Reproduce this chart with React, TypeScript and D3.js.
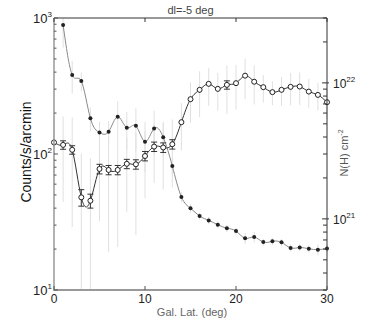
import React from "react";
import * as d3 from "d3";

const lat = [0, 1, 2, 3, 4, 5, 6, 7, 8, 9, 10, 11, 12, 13, 14, 15, 16, 17, 18, 19, 20, 21, 22, 23, 24, 25, 26, 27, 28, 29, 30];

// Filled circles: counts/s/arcmin (left axis), lat 1..30
const countLat = [1, 2, 3, 4, 5, 6, 7, 8, 9, 10, 11, 12, 13, 14, 15, 16, 17, 18, 19, 20, 21, 22, 23, 24, 25, 26, 27, 28, 29, 30];
const counts = [889, 381, 344, 183, 144, 146, 188, 156, 161, 123, 154, 133, 81.6, 48.3, 39.9, 35, 32.5, 30.2, 28.5, 27.1, 24.0, 24.5, 22.5, 22.8, 22.4, 20.4, 20.5, 20.1, 19.8, 20.2];
const countsErr = [284, 103, 55, 37, 29, 29, 56, 48, 56, 49, 54, 40, 12, 4, 2.8, 2.1, 2.0, 1.8, 1.7, 1.6, 2.2, 2.2, 1.4, 1.4, 1.3, 1.2, 1.2, 1.2, 1.8, 1.2];

// Open circles: N(H) in units of 1e21 cm^-2 (right axis), lat 0..30
const nh = [3.65, 3.5, 3.22, 1.44, 1.36, 2.33, 2.29, 2.29, 2.54, 2.52, 2.9, 3.4, 3.35, 3.54, 5.14, 7.59, 8.89, 9.84, 9.04, 9.67, 9.95, 11.3, 10.2, 9.3, 8.55, 8.89, 9.35, 9.4, 8.63, 8.16, 7.21];
const nhErrWide = [1.83, 2.17, 2.35, 1.58, 1.43, 1.37, 1.72, 1.67, 1.42, 1.76, 1.48, 1.56, 1.71, 1.84, 1.95, 2.5, 3.29, 3.05, 2.8, 3.77, 3.58, 3.73, 3.26, 2.14, 1.71, 2.13, 2.52, 2.54, 2.07, 1.88, 1.8];
const nhErrNarrow = [0.22, 0.25, 0.23, 0.2, 0.16, 0.19, 0.18, 0.18, 0.2, 0.2, 0.23, 0.27, 0.27, 0.28, 0.21, 0.3, 0.44, 0.39, 0.36, 0.68, 0.4, 0.45, 0.41, 0.37, 0.34, 0.36, 0.37, 0.38, 0.35, 0.33, 0.29];
const NH_UNIT = 1e21;

const xTicks = [0, 10, 20, 30];
const leftMajor = [10, 100, 1000];
const leftExp = ["1", "2", "3"];
const rightMajor = [1e21, 1e22];
const rightExp = ["21", "22"];

const title = "dl=-5 deg";
const xLabel = "Gal. Lat. (deg)";
const yLabel = "Counts/s/arcmin";

const W = 382, H = 322;
const L = 54, R = 327, T = 18, B = 290;
const FONT = "'Liberation Sans', Arial, sans-serif";

export default function App() {
  const x = d3.scaleLinear().domain([0, 30]).range([L, R]);
  const yL = d3.scaleLog().domain([10, 1000]).range([B, T]);
  const yR = d3.scaleLog().domain([3e20, 3e22]).range([B, T]);

  const leftMinor: number[] = [];
  for (const dec of [10, 100]) for (let k = 2; k <= 9; k++) leftMinor.push(dec * k);
  const rightMinor: number[] = [];
  for (const dec of [1e20, 1e21, 1e22]) for (let k = 1; k <= 9; k++) {
    const v = dec * k;
    if (v >= 3e20 && v <= 3e22 && v !== 1e21 && v !== 1e22) rightMinor.push(v);
  }

  const clip = (v: number) => Math.max(T, Math.min(B, v));
  const yRc = (v: number) => (v <= 0 ? B : clip(yR(v)));
  const yLc = (v: number) => (v <= 0 ? B : clip(yL(v)));

  const lineCounts = d3.line<number>()
    .x((_, i) => x(countLat[i]))
    .y((d) => yL(d))
    .curve(d3.curveNatural)(counts) || "";
  const lineNh = d3.line<number>()
    .x((_, i) => x(lat[i]))
    .y((d) => yR(d * NH_UNIT))
    .curve(d3.curveNatural)(nh) || "";

  return (
    <svg width={W} height={H} style={{ position: "absolute", left: 0, top: 0, background: "#fff" }} fontFamily={FONT}>
      <defs>
        <clipPath id="plotclip">
          <rect x={L} y={T} width={R - L} height={B - T} />
        </clipPath>
      </defs>
      <rect x={0} y={0} width={W} height={H} fill="#fff" />

      {/* wide light error bars */}
      <g stroke="#e0e0e0" strokeWidth={1}>
        {nh.map((v, i) => (
          <line key={"nw" + i} x1={x(lat[i])} x2={x(lat[i])}
            y1={yRc((v + nhErrWide[i]) * NH_UNIT)} y2={yRc((v - nhErrWide[i]) * NH_UNIT)} />
        ))}
        {counts.map((v, i) => (
          <line key={"cw" + i} x1={x(countLat[i])} x2={x(countLat[i])}
            y1={yLc(v + countsErr[i])} y2={yLc(v - countsErr[i])} />
        ))}
      </g>

      <g clipPath="url(#plotclip)">
        <path d={lineCounts} fill="none" stroke="#8a8a8a" strokeWidth={1} />
        <path d={lineNh} fill="none" stroke="#333" strokeWidth={1} />
      </g>

      {/* narrow dark error bars on N(H) */}
      <g stroke="#333" strokeWidth={1}>
        {nh.map((v, i) => {
          const cx = x(lat[i]);
          const y1 = yR((v + nhErrNarrow[i]) * NH_UNIT);
          const y2 = yR((v - nhErrNarrow[i]) * NH_UNIT);
          const cy = yR(v * NH_UNIT);
          const showCap = cy - y1 > 3.6;
          return (
            <g key={"nn" + i}>
              <line x1={cx} x2={cx} y1={y1} y2={y2} />
              {showCap && <line x1={cx - 3} x2={cx + 3} y1={y1} y2={y1} />}
              {showCap && <line x1={cx - 3} x2={cx + 3} y1={y2} y2={y2} />}
            </g>
          );
        })}
      </g>

      {counts.map((v, i) => (
        <circle key={"cp" + i} cx={x(countLat[i])} cy={yL(v)} r={2} fill="#222" />
      ))}
      {nh.map((v, i) => (
        <circle key={"np" + i} cx={x(lat[i])} cy={yR(v * NH_UNIT)} r={2.5} fill="#fff" stroke="#222" strokeWidth={1} />
      ))}

      {/* frame */}
      <line x1={L} x2={R} y1={T} y2={T} stroke="#333" strokeWidth={1} />
      <line x1={R} x2={R} y1={T} y2={B} stroke="#333" strokeWidth={1} />
      <line x1={L} x2={L} y1={T} y2={B + 1} stroke="#999" strokeWidth={1.5} />
      <line x1={L} x2={R} y1={B} y2={B} stroke="#999" strokeWidth={2} />

      {/* x ticks */}
      {xTicks.map((t) => (
        <g key={"xt" + t}>
          <line x1={x(t)} x2={x(t)} y1={B} y2={B - 4} stroke="#555" />
          <line x1={x(t)} x2={x(t)} y1={T} y2={T + 4} stroke="#333" />
          <text x={x(t)} y={303} textAnchor="middle" fontSize={12} fill="#222">{t}</text>
        </g>
      ))}

      {/* left ticks */}
      {leftMinor.map((v) => (
        <line key={"lm" + v} x1={L} x2={L + 2.5} y1={yL(v)} y2={yL(v)} stroke="#555" />
      ))}
      {leftMajor.map((v, i) => (
        <g key={"lM" + v}>
          <line x1={L} x2={L + 4} y1={yL(v)} y2={yL(v)} stroke="#555" />
          <text x={33} y={yL(v) + 5} fontSize={13} fill="#222">
            10<tspan dy={-6} fontSize={8}>{leftExp[i]}</tspan>
          </text>
        </g>
      ))}

      {/* right ticks */}
      {rightMinor.map((v) => (
        <line key={"rm" + v} x1={R - 4} x2={R} y1={yR(v)} y2={yR(v)} stroke="#333" />
      ))}
      {rightMajor.map((v, i) => (
        <g key={"rM" + v}>
          <line x1={R - 5} x2={R + 2} y1={yR(v)} y2={yR(v)} stroke="#333" />
          <text x={333} y={yR(v) + 5} fontSize={12} fill="#222">
            10<tspan dy={-6} fontSize={8}>{rightExp[i]}</tspan>
          </text>
        </g>
      ))}

      {/* labels */}
      <text x={(L + R) / 2} y={14} textAnchor="middle" fontSize={11} fill="#444">{title}</text>
      <text x={192} y={316} textAnchor="middle" fontSize={11} fill="#666">{xLabel}</text>
      <text transform="translate(31,152) rotate(-90)" textAnchor="middle" fontSize={14} fill="#111">{yLabel}</text>
      <text transform="translate(348,153) rotate(-90)" textAnchor="middle" fontSize={11} fill="#555">
        N(H) cm<tspan dy={-5} fontSize={7}>-2</tspan>
      </text>
    </svg>
  );
}
